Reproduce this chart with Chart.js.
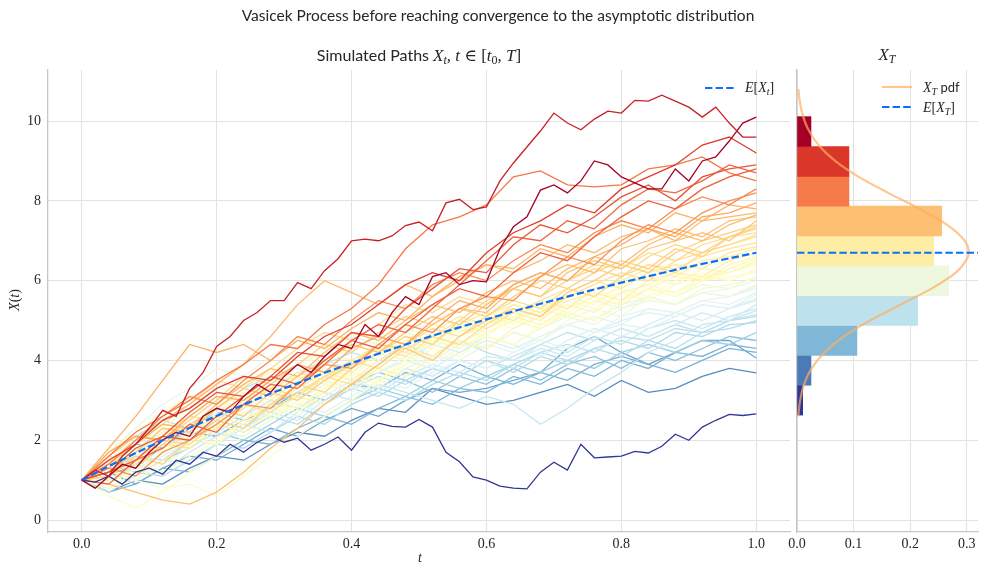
<!DOCTYPE html>
<html>
<head>
<meta charset="utf-8">
<script src="https://cdn.jsdelivr.net/npm/chart.js@4.4.1/dist/chart.umd.min.js"></script>
<style>
  html, body { margin: 0; padding: 0; background: #fff; }
  #wrap { position: relative; width: 988px; height: 577px; }
  #left { position: absolute; left: 0; top: 0; }
  #right { position: absolute; left: 780px; top: 0; }
</style>
</head>
<body>
<div id="wrap">
  <canvas id="left" width="792" height="577"></canvas>
  <canvas id="right" width="208" height="577"></canvas>
</div>
<script>
// time grids
const tFine = [0, 0.02, 0.04, 0.06, 0.08, 0.1, 0.12, 0.14, 0.16, 0.18,
  0.2, 0.22, 0.24, 0.26, 0.28, 0.3, 0.32, 0.34, 0.36, 0.38,
  0.4, 0.42, 0.44, 0.46, 0.48, 0.5, 0.52, 0.54, 0.56, 0.58,
  0.6, 0.62, 0.64, 0.66, 0.68, 0.7, 0.72, 0.74, 0.76, 0.78,
  0.8, 0.82, 0.84, 0.86, 0.88, 0.9, 0.92, 0.94, 0.96, 0.98, 1.0];
const tCoarse = [0, 0.04, 0.08, 0.12, 0.16, 0.2, 0.24, 0.28, 0.32, 0.36, 0.4, 0.44, 0.48,
  0.52, 0.56, 0.6, 0.64, 0.68, 0.72, 0.76, 0.8, 0.84, 0.88, 0.92, 0.96, 1.0];

// the three paths that stand out (read on the 0.02 grid)
const pathTop = [1.0, 1.25, 1.1, 1.6, 1.9, 2.3, 2.75, 2.6, 3.3, 3.7,
  4.35, 4.6, 5.0, 5.2, 5.5, 5.5, 5.95, 5.8, 6.25, 6.55,
  7.0, 7.04, 7.0, 7.12, 7.38, 7.47, 7.25, 7.95, 8.04, 7.78,
  7.85, 8.5, 8.95, 9.35, 9.75, 10.2, 9.95, 9.78, 10.05, 10.25,
  10.2, 10.52, 10.5, 10.65, 10.5, 10.35, 10.1, 10.35, 9.95, 9.6, 9.6];
const pathHigh = [1.0, 0.8, 1.1, 1.4, 1.3, 1.7, 2.0, 2.2, 2.1, 2.6,
  2.8, 2.7, 3.1, 3.4, 3.2, 3.6, 3.9, 3.7, 4.1, 4.4,
  4.3, 4.9, 4.6, 5.2, 5.6, 5.4, 6.1, 6.2, 5.9, 6.0,
  5.97, 6.8, 7.35, 7.6, 8.27, 8.4, 8.2, 8.5, 9.0, 8.9,
  8.6, 8.45, 8.3, 8.3, 8.8, 8.5, 9.0, 9.1, 9.5, 9.95, 10.1];
const pathLow = [1.0, 0.95, 1.1, 0.9, 1.2, 1.3, 1.15, 1.5, 1.4, 1.7,
  1.6, 1.9, 1.7, 1.95, 2.1, 1.95, 2.05, 1.75, 1.9, 2.08,
  1.75, 2.2, 2.43, 2.35, 2.33, 2.52, 2.33, 1.7, 1.46, 1.08,
  1.0, 0.85, 0.8, 0.78, 1.2, 1.45, 1.25, 1.9, 1.56, 1.58,
  1.6, 1.72, 1.68, 1.85, 2.15, 2.0, 2.33, 2.5, 2.65, 2.62, 2.66];

// the rest of the bundle (read on the 0.04 grid)
const pathsCoarse = [
  [1.0, 1.5, 1.9, 2.5, 2.8, 3.3, 3.6, 3.5, 4.1, 4.6, 4.9, 5.4, 5.9, 6.2, 6.0, 6.7, 7.2, 7.5, 7.9, 7.7, 8.3, 8.6, 8.9, 9.4, 9.6, 9.2],
  [1.0, 1.2, 1.8, 2.1, 2.7, 3.2, 3.1, 3.6, 4.2, 4.1, 4.7, 4.6, 5.3, 5.8, 6.3, 6.2, 6.9, 7.4, 7.2, 7.6, 8.1, 8.4, 8.0, 8.6, 8.8, 8.9],
  [1.0, 0.9, 1.5, 1.8, 2.4, 2.2, 2.9, 3.4, 3.3, 3.9, 4.5, 4.9, 4.7, 5.3, 5.9, 6.5, 7.1, 7.0, 7.5, 7.3, 7.9, 8.3, 8.2, 8.5, 8.9, 8.7],
  [1.0, 1.2, 1.5, 2.1, 2.0, 2.6, 3.1, 3.6, 3.4, 4.0, 4.5, 4.3, 4.9, 5.4, 5.8, 5.6, 6.2, 6.7, 6.5, 7.1, 7.6, 8.0, 7.8, 8.3, 8.6, 8.8],
  [1.0, 1.6, 2.2, 2.6, 3.0, 3.5, 3.9, 4.4, 4.3, 4.9, 5.3, 5.9, 6.8, 7.4, 7.6, 7.9, 8.6, 8.75, 8.4, 8.35, 8.4, 8.8, 8.9, 9.1, 8.7, 8.5],
  [1.0, 1.4, 2.0, 2.6, 3.1, 2.9, 3.5, 4.0, 4.6, 4.4, 5.0, 5.5, 5.3, 5.9, 6.2, 6.0, 6.5, 6.9, 6.7, 7.2, 7.5, 7.3, 7.8, 8.1, 7.9, 8.3],
  [1.0, 1.3, 1.1, 1.7, 2.0, 2.4, 2.9, 2.8, 3.4, 3.9, 3.8, 4.4, 4.9, 4.7, 5.3, 5.6, 5.5, 6.1, 6.6, 6.4, 7.0, 7.4, 7.2, 7.7, 8.0, 8.2],
  [1.0, 1.7, 2.1, 2.0, 2.6, 3.1, 3.0, 3.5, 3.9, 3.7, 4.3, 4.6, 4.4, 5.0, 5.5, 5.3, 5.9, 6.2, 6.0, 6.6, 6.9, 7.3, 7.1, 7.6, 7.7, 7.95],
  [1.0, 1.8, 2.6, 3.5, 4.4, 4.2, 4.4, 4.0, 4.5, 4.3, 4.8, 5.2, 5.0, 5.6, 6.1, 6.4, 6.3, 6.8, 6.6, 7.1, 7.4, 7.2, 7.7, 7.5, 7.9, 7.8],
  [1.0, 1.4, 2.0, 2.5, 2.9, 3.4, 3.9, 4.6, 5.4, 6.0, 5.7, 5.4, 5.9, 5.6, 6.0, 6.4, 6.2, 6.5, 6.9, 6.7, 7.1, 7.3, 7.0, 7.5, 7.6, 7.7],
  [1.0, 1.3, 1.9, 2.4, 2.3, 2.9, 3.4, 3.8, 3.6, 4.2, 4.7, 4.5, 5.0, 5.4, 5.2, 5.7, 6.0, 5.8, 6.3, 6.6, 6.4, 6.9, 7.2, 7.0, 7.4, 7.65],
  [1.0, 0.9, 0.7, 0.5, 0.4, 0.7, 1.2, 1.8, 2.3, 2.9, 3.4, 3.9, 4.4, 4.9, 5.3, 5.2, 5.8, 6.1, 6.4, 6.2, 6.8, 7.0, 7.3, 7.1, 7.5, 7.6],
  [1.0, 1.2, 1.7, 2.3, 2.2, 2.8, 3.3, 3.1, 3.6, 4.0, 4.4, 4.2, 4.7, 5.1, 4.9, 5.4, 5.8, 5.6, 6.2, 6.5, 6.3, 6.8, 7.0, 7.2, 7.0, 7.5],
  [1.0, 1.5, 1.3, 1.9, 2.4, 2.8, 2.6, 3.2, 3.0, 3.5, 3.9, 4.4, 4.3, 4.0, 4.6, 5.0, 5.3, 5.1, 5.7, 6.0, 6.4, 6.2, 6.7, 7.0, 7.2, 7.4],
  [1.0, 1.6, 2.1, 2.0, 2.5, 3.0, 3.6, 3.4, 3.9, 4.4, 4.2, 4.7, 5.1, 4.9, 5.3, 5.1, 5.6, 6.0, 5.8, 6.2, 6.5, 6.3, 6.8, 6.6, 7.1, 7.35],
  [1.0, 1.1, 1.6, 1.4, 2.0, 2.5, 2.3, 2.9, 3.4, 3.2, 3.8, 4.2, 4.6, 4.4, 5.0, 5.5, 5.8, 5.6, 6.0, 6.3, 6.1, 6.6, 6.9, 6.7, 7.1, 7.3],
  [1.0, 1.4, 1.9, 2.4, 2.9, 3.5, 3.3, 3.8, 4.3, 4.7, 4.5, 4.9, 5.4, 5.2, 5.6, 5.4, 5.9, 6.2, 6.0, 6.4, 6.3, 6.7, 6.5, 6.9, 7.1, 7.2],
  [1.0, 1.1, 1.5, 2.0, 1.9, 2.4, 2.9, 2.7, 3.2, 3.6, 3.4, 3.9, 4.4, 4.8, 4.6, 5.1, 5.5, 5.3, 5.8, 5.6, 6.1, 6.4, 6.2, 6.7, 6.9, 7.15],
  [1.0, 1.6, 1.5, 2.1, 2.6, 2.5, 3.0, 3.3, 3.1, 3.6, 4.0, 3.8, 4.3, 4.6, 4.4, 4.9, 5.3, 5.1, 5.6, 5.9, 6.2, 6.0, 6.5, 6.7, 6.9, 7.1],
  [1.0, 1.0, 1.4, 1.9, 1.8, 2.3, 2.8, 3.3, 3.1, 3.6, 3.9, 4.3, 4.1, 4.6, 5.0, 4.8, 5.2, 5.5, 5.8, 5.6, 6.1, 6.4, 6.3, 6.6, 6.8, 6.95],
  [1.0, 1.5, 1.4, 2.0, 2.4, 2.3, 2.8, 3.3, 3.7, 3.5, 4.0, 4.4, 4.2, 4.7, 5.1, 4.9, 5.4, 5.2, 5.7, 6.0, 5.8, 6.2, 6.4, 6.3, 6.7, 6.85],
  [1.0, 1.5, 2.0, 2.4, 2.3, 2.8, 3.2, 3.0, 3.5, 3.9, 3.7, 4.2, 4.6, 4.4, 4.9, 5.2, 5.0, 5.5, 5.3, 5.8, 6.0, 6.3, 6.1, 6.5, 6.6, 6.8],
  [1.0, 1.3, 1.8, 1.7, 2.2, 2.6, 2.4, 2.9, 3.3, 3.7, 3.5, 4.0, 4.3, 4.1, 4.6, 4.9, 5.2, 5.0, 5.5, 5.7, 5.5, 6.0, 6.2, 6.1, 6.5, 6.7],
  [1.0, 1.2, 1.1, 1.5, 1.9, 2.4, 2.2, 2.7, 3.1, 2.9, 3.4, 3.8, 3.6, 4.1, 4.5, 4.3, 4.8, 5.1, 5.4, 5.2, 5.7, 5.9, 6.2, 6.0, 6.4, 6.6],
  [1.0, 1.2, 1.7, 2.2, 2.6, 3.0, 2.8, 3.3, 3.6, 3.4, 3.9, 4.3, 4.1, 4.6, 4.4, 4.8, 5.1, 4.9, 5.3, 5.6, 5.4, 5.8, 6.1, 6.0, 6.3, 6.55],
  [1.0, 1.7, 2.2, 2.7, 3.1, 2.9, 3.4, 3.7, 4.1, 3.9, 4.4, 4.2, 4.5, 4.9, 4.7, 5.1, 5.4, 5.2, 5.6, 5.4, 5.9, 6.1, 5.9, 6.3, 6.2, 6.5],
  [1.0, 0.9, 1.3, 1.2, 1.6, 2.0, 2.5, 2.9, 2.8, 3.3, 3.7, 3.5, 4.0, 4.5, 4.3, 4.7, 5.0, 4.8, 5.2, 5.0, 5.5, 5.8, 5.7, 6.1, 6.2, 6.45],
  [1.0, 0.8, 1.2, 1.7, 2.1, 1.9, 2.5, 2.9, 2.7, 3.2, 3.6, 3.4, 3.9, 4.3, 4.1, 4.6, 4.4, 4.9, 5.2, 5.0, 5.5, 5.8, 5.6, 6.0, 6.2, 6.4],
  [1.0, 0.6, 0.3, 0.7, 1.2, 1.6, 2.1, 2.5, 2.9, 3.3, 3.8, 4.2, 4.0, 4.5, 4.8, 4.6, 5.1, 5.4, 5.2, 5.6, 5.8, 5.6, 6.0, 6.2, 6.0, 6.3],
  [1.0, 1.4, 1.7, 2.2, 2.1, 2.7, 3.1, 2.9, 3.4, 3.8, 3.6, 4.1, 4.5, 4.3, 4.8, 5.1, 4.9, 5.3, 5.1, 5.5, 5.7, 5.5, 5.9, 6.1, 6.0, 6.25],
  [1.0, 1.3, 1.0, 0.8, 0.9, 0.6, 1.1, 1.6, 2.1, 2.6, 3.0, 3.5, 3.9, 4.3, 4.7, 5.0, 4.8, 5.2, 5.5, 5.3, 5.7, 5.9, 5.7, 6.0, 6.1, 6.2],
  [1.0, 1.5, 1.9, 2.3, 2.8, 3.2, 3.0, 3.4, 3.9, 4.2, 4.0, 4.4, 4.7, 4.5, 4.9, 4.7, 5.0, 5.3, 5.1, 5.5, 5.4, 5.8, 5.6, 5.9, 5.8, 6.1],
  [1.0, 0.8, 1.0, 1.4, 1.8, 2.3, 2.7, 2.6, 3.1, 3.5, 3.3, 3.8, 3.6, 4.1, 4.5, 4.3, 4.7, 4.5, 5.0, 5.3, 5.1, 5.6, 5.4, 5.8, 5.9, 6.05],
  [1.0, 1.1, 1.6, 2.0, 1.9, 2.4, 2.7, 2.5, 3.0, 3.4, 3.2, 3.7, 4.1, 3.9, 4.3, 4.6, 4.4, 4.8, 5.1, 4.9, 5.3, 5.5, 5.4, 5.7, 5.8, 6.0],
  [1.0, 1.4, 1.3, 1.8, 2.2, 2.6, 3.0, 3.4, 3.8, 3.6, 4.0, 4.3, 4.1, 4.5, 4.3, 4.7, 5.0, 4.8, 5.2, 5.0, 5.4, 5.6, 5.4, 5.7, 5.6, 5.9],
  [1.0, 1.7, 2.3, 2.9, 3.3, 3.8, 3.6, 4.1, 4.5, 4.3, 4.6, 4.4, 4.8, 4.6, 4.9, 5.2, 5.0, 5.3, 5.1, 5.5, 5.3, 5.6, 5.4, 5.7, 5.6, 5.85],
  [1.0, 0.9, 1.3, 1.6, 2.0, 1.9, 2.4, 2.8, 2.6, 3.1, 3.5, 3.3, 3.8, 4.1, 4.0, 4.4, 4.2, 4.6, 4.9, 4.7, 5.1, 5.3, 5.2, 5.5, 5.6, 5.8],
  [1.0, 1.6, 2.0, 1.9, 2.4, 2.7, 3.1, 2.9, 3.3, 3.7, 3.5, 3.9, 4.2, 4.0, 4.4, 4.3, 4.7, 4.5, 4.9, 5.1, 4.9, 5.3, 5.2, 5.5, 5.4, 5.7],
  [1.0, 1.1, 1.5, 1.4, 1.8, 2.2, 2.1, 2.5, 2.9, 2.7, 3.1, 3.5, 3.3, 3.7, 4.0, 3.8, 4.2, 4.5, 4.3, 4.7, 4.9, 4.8, 5.1, 5.4, 5.3, 5.65],
  [1.0, 1.2, 1.7, 2.1, 2.0, 2.5, 2.9, 2.7, 3.2, 3.5, 3.3, 3.7, 4.0, 3.8, 4.2, 4.5, 4.3, 4.6, 4.9, 4.7, 5.0, 5.2, 5.1, 5.4, 5.3, 5.55],
  [1.0, 1.3, 1.8, 2.2, 2.6, 3.0, 3.4, 3.2, 3.7, 4.0, 3.8, 4.2, 4.0, 4.4, 4.2, 4.6, 4.4, 4.1, 4.5, 4.8, 4.6, 4.9, 5.2, 5.0, 5.3, 5.5],
  [1.0, 0.7, 1.1, 1.5, 1.4, 1.9, 2.3, 2.7, 2.5, 3.0, 3.4, 3.2, 3.6, 3.9, 3.7, 4.1, 4.0, 4.3, 4.1, 4.5, 4.8, 4.6, 4.9, 5.2, 5.0, 5.4],
  [1.0, 0.9, 1.4, 1.2, 1.7, 2.1, 2.4, 2.2, 2.7, 3.1, 3.5, 3.3, 3.8, 3.6, 4.0, 3.8, 4.1, 4.4, 4.2, 4.6, 4.4, 4.8, 5.0, 4.8, 5.1, 5.3],
  [1.0, 1.3, 1.6, 2.0, 2.4, 2.2, 2.6, 3.0, 2.8, 3.2, 3.0, 3.4, 3.2, 3.0, 2.8, 3.1, 2.9, 2.4, 2.8, 3.3, 3.7, 4.2, 4.5, 4.9, 5.0, 5.25],
  [1.0, 1.6, 2.1, 2.5, 2.3, 2.8, 3.3, 3.6, 3.4, 3.9, 4.2, 4.0, 4.4, 4.1, 4.5, 4.2, 4.0, 4.4, 4.7, 4.5, 4.8, 4.6, 4.9, 4.7, 5.0, 5.15],
  [1.0, 1.4, 1.2, 1.7, 2.1, 2.5, 2.3, 2.8, 3.1, 2.9, 3.3, 3.6, 3.4, 3.8, 3.6, 4.0, 3.8, 4.2, 4.4, 4.2, 4.6, 4.5, 4.8, 4.7, 5.0, 5.1],
  [1.0, 1.2, 1.6, 1.5, 2.0, 2.4, 2.2, 2.6, 2.4, 2.9, 3.3, 3.1, 3.5, 3.8, 3.6, 4.0, 3.7, 4.1, 3.9, 4.3, 4.1, 4.5, 4.3, 4.7, 4.8, 5.0],
  [1.0, 0.8, 1.2, 1.1, 1.5, 1.9, 1.8, 2.2, 2.6, 2.4, 2.9, 3.2, 3.0, 3.4, 3.7, 3.5, 3.9, 4.2, 4.0, 4.3, 4.5, 4.3, 4.7, 4.6, 4.9, 4.95],
  [1.0, 1.3, 1.1, 1.5, 1.8, 2.2, 2.0, 2.4, 2.8, 2.6, 3.0, 3.3, 3.1, 3.5, 3.3, 3.6, 3.9, 3.7, 4.0, 3.8, 4.2, 4.4, 4.2, 4.5, 4.4, 4.7],
  [1.0, 1.5, 1.9, 1.8, 2.3, 2.7, 2.5, 2.9, 3.2, 3.0, 3.4, 3.7, 3.5, 3.2, 3.6, 3.4, 3.8, 3.5, 3.9, 4.1, 3.8, 4.2, 4.0, 4.3, 4.6, 4.5],
  [1.0, 0.7, 0.9, 1.3, 1.2, 1.6, 2.0, 1.9, 2.3, 2.6, 2.4, 2.8, 3.1, 2.9, 3.3, 3.2, 3.6, 3.4, 3.8, 3.6, 4.0, 3.8, 4.2, 4.1, 4.4, 4.3],
  [1.0, 1.1, 1.4, 1.8, 2.2, 2.1, 2.5, 2.8, 3.2, 3.0, 3.4, 3.3, 3.7, 3.5, 3.9, 3.6, 3.4, 3.7, 3.5, 3.9, 4.1, 3.9, 3.7, 4.0, 4.3, 4.2],
  [1.0, 1.2, 0.9, 1.3, 1.6, 1.5, 1.9, 2.3, 2.1, 2.5, 2.8, 2.6, 3.0, 3.3, 3.2, 3.3, 3.5, 3.7, 4.3, 4.6, 4.2, 3.9, 4.2, 4.5, 4.5, 4.06],
  [1.0, 0.7, 1.0, 0.9, 1.3, 1.6, 1.5, 1.9, 2.2, 2.1, 2.5, 2.8, 2.7, 3.3, 3.1, 2.9, 3.0, 3.2, 3.4, 3.1, 3.5, 3.2, 3.3, 3.6, 3.8, 3.69]
];

// E[X_t] on the 0.04 grid
const meanPath = [1.0, 1.35, 1.68, 2.0, 2.31, 2.61, 2.89, 3.17, 3.43, 3.69, 3.93, 4.17, 4.40,
  4.62, 4.83, 5.03, 5.23, 5.42, 5.60, 5.78, 5.95, 6.11, 6.27, 6.42, 6.56, 6.70];
const meanT = 6.70;

// histogram of X_T (density), bins from bottom to top
const binCenters = [3.005, 3.753, 4.501, 5.249, 5.997, 6.745, 7.493, 8.241, 8.989, 9.737];
const binDensity = [0.010, 0.0247, 0.1059, 0.2135, 0.2682, 0.2417, 0.2559, 0.0918, 0.0918, 0.0247];

// X_T pdf, read along the value axis
const pdfLevels = [2.6, 3.0, 3.4, 3.8, 4.2, 4.6, 5.0, 5.4, 5.8, 6.2, 6.6, 6.72, 7.0, 7.4, 7.8,
  8.2, 8.6, 9.0, 9.4, 9.8, 10.2, 10.6, 10.8];
const pdfValues = [0.0022, 0.0055, 0.0125, 0.0257, 0.0483, 0.0826, 0.129, 0.1833, 0.2376, 0.2807,
  0.3022, 0.3035, 0.2967, 0.2655, 0.2166, 0.161, 0.1091, 0.0674, 0.038, 0.0195, 0.0091, 0.0039, 0.0025];

// ticks
const xTicksLeft = [0, 0.2, 0.4, 0.6, 0.8, 1.0];
const xTicksRight = [0, 0.1, 0.2, 0.3];
const yTicks = [0, 2, 4, 6, 8, 10];

// ---- style ----
const SANS = 'Lato, "DejaVu Sans", sans-serif';
const SERIF = '"Liberation Serif", "DejaVu Serif", serif';
const TXT = '#262626';
const GRID = '#e2e2e2';
const SPINE = '#c6c6c6';
const MEAN_BLUE = '#0b6ff7';
const PDF_ORANGE = 'rgba(253,174,97,0.7)';
const DASH = [7.4, 3.2];

const RDYLBU_R = ['#313695', '#4575b4', '#74add1', '#abd9e9', '#e0f3f8', '#ffffbf',
  '#fee090', '#fdae61', '#f46d43', '#d73027', '#a50026'];

function hexRgb(h) {
  return [parseInt(h.slice(1, 3), 16), parseInt(h.slice(3, 5), 16), parseInt(h.slice(5, 7), 16)];
}

function cmap(f) {
  f = Math.min(1, Math.max(0, f));
  const p = f * 10;
  const i = Math.min(9, Math.floor(p));
  const u = p - i;
  const a = hexRgb(RDYLBU_R[i]), b = hexRgb(RDYLBU_R[i + 1]);
  const c = a.map((v, k) => Math.round(v + (b[k] - v) * u));
  return `rgb(${c[0]},${c[1]},${c[2]})`;
}

function drawRich(ctx, parts, x, y, align) {
  let w = 0;
  parts.forEach(p => { ctx.font = p.font; p.w = ctx.measureText(p.text).width; w += p.w; });
  let cx = align === 'center' ? x - w / 2 : x;
  ctx.textAlign = 'left';
  parts.forEach(p => {
    ctx.font = p.font;
    ctx.fillText(p.text, cx, y + (p.dy || 0));
    cx += p.w;
  });
}

const sans = s => `${s}px ${SANS}`;
const serif = s => `${s}px ${SERIF}`;
const ital = s => `italic ${s}px ${SERIF}`;

function legendLine(ctx, x0, x1, y, color, dash, width) {
  ctx.save();
  ctx.strokeStyle = color;
  ctx.lineWidth = width;
  ctx.setLineDash(dash);
  ctx.beginPath();
  ctx.moveTo(x0, y);
  ctx.lineTo(x1, y);
  ctx.stroke();
  ctx.restore();
}

// ---- left panel ----
const allPaths = [
  { t: tFine, v: pathTop }, { t: tFine, v: pathHigh }, { t: tFine, v: pathLow },
  ...pathsCoarse.map(v => ({ t: tCoarse, v }))
];
const finals = allPaths.map(p => p.v[p.v.length - 1]);
const fMin = Math.min(...finals), fMax = Math.max(...finals);

const pathSets = allPaths.map(p => ({
  data: p.t.map((x, i) => ({ x, y: p.v[i] })),
  borderColor: cmap((p.v[p.v.length - 1] - fMin) / (fMax - fMin)),
  borderWidth: 1.3,
  pointRadius: 0,
  tension: 0,
  fill: false
}));

const meanSet = {
  data: tCoarse.map((x, i) => ({ x, y: meanPath[i] })),
  borderColor: MEAN_BLUE,
  borderWidth: 2.2,
  borderDash: DASH,
  pointRadius: 0,
  fill: false
};

const leftText = {
  id: 'leftText',
  afterDraw(chart) {
    const ctx = chart.ctx;
    ctx.save();
    ctx.fillStyle = TXT;
    ctx.textBaseline = 'alphabetic';
    drawRich(ctx, [{ text: 'Vasicek Process before reaching convergence to the asymptotic distribution', font: sans(15.5) }], 498, 21, 'center');
    drawRich(ctx, [
      { text: 'Simulated Paths ', font: sans(16) },
      { text: 'X', font: ital(17) }, { text: 't', font: ital(12), dy: 3 },
      { text: ', ', font: serif(17) }, { text: 't', font: ital(17) },
      { text: ' \u2208 [', font: serif(17) }, { text: 't', font: ital(17) },
      { text: '0', font: serif(12), dy: 3 }, { text: ', ', font: serif(17) },
      { text: 'T', font: ital(17) }, { text: ']', font: serif(17) }
    ], 419, 61, 'center');
    // legend
    legendLine(ctx, 705, 734, 88, MEAN_BLUE, DASH, 2.2);
    drawRich(ctx, [
      { text: 'E', font: ital(14) }, { text: '[', font: serif(14) },
      { text: 'X', font: ital(14) }, { text: 't', font: ital(10), dy: 3 },
      { text: ']', font: serif(14) }
    ], 745, 92, 'left');
    // axis titles
    drawRich(ctx, [{ text: 't', font: ital(14) }], 420, 562, 'center');
    ctx.translate(19, 300);
    ctx.rotate(-Math.PI / 2);
    drawRich(ctx, [
      { text: 'X', font: ital(14) }, { text: '(', font: serif(14) },
      { text: 't', font: ital(14) }, { text: ')', font: serif(14) }
    ], 0, 0, 'center');
    ctx.restore();
  }
};

new Chart(document.getElementById('left'), {
  type: 'line',
  data: { datasets: [meanSet, ...pathSets] },
  options: {
    responsive: false,
    animation: false,
    layout: { padding: { top: 70, right: 2, left: 0, bottom: 0 } },
    plugins: { legend: { display: false }, tooltip: { enabled: false } },
    scales: {
      x: {
        type: 'linear', min: -0.05, max: 1.05,
        afterBuildTicks: s => { s.ticks = xTicksLeft.map(v => ({ value: v })); },
        afterFit: s => { s.height = 45; },
        grid: { color: GRID, lineWidth: 1, drawTicks: false },
        border: { color: SPINE, width: 1.3 },
        ticks: { color: TXT, font: { family: SERIF, size: 14 }, padding: 4, maxRotation: 0, autoSkip: false,
          callback: v => v.toFixed(1) }
      },
      y: {
        type: 'linear', min: -0.3, max: 11.28,
        afterBuildTicks: s => { s.ticks = yTicks.map(v => ({ value: v })); },
        afterFit: s => { s.width = 48; },
        grid: { color: GRID, lineWidth: 1, drawTicks: false },
        border: { color: SPINE, width: 1.3 },
        ticks: { color: TXT, font: { family: SERIF, size: 14 }, padding: 7, autoSkip: false,
          callback: v => String(v) }
      }
    }
  },
  plugins: [leftText]
});

// ---- right panel ----
const rightText = {
  id: 'rightText',
  afterDraw(chart) {
    const ctx = chart.ctx;
    ctx.save();
    ctx.fillStyle = TXT;
    ctx.textBaseline = 'alphabetic';
    drawRich(ctx, [{ text: 'X', font: ital(17) }, { text: 'T', font: ital(12), dy: 3 }], 107, 60, 'center');
    legendLine(ctx, 102, 132, 87, PDF_ORANGE, [], 2.2);
    drawRich(ctx, [
      { text: 'X', font: ital(14) }, { text: 'T', font: ital(10), dy: 3 },
      { text: ' pdf', font: sans(13) }
    ], 143, 92, 'left');
    legendLine(ctx, 102, 132, 107, MEAN_BLUE, DASH, 2.2);
    drawRich(ctx, [
      { text: 'E', font: ital(14) }, { text: '[', font: serif(14) },
      { text: 'X', font: ital(14) }, { text: 'T', font: ital(10), dy: 3 },
      { text: ']', font: serif(14) }
    ], 143, 112, 'left');
    ctx.restore();
  }
};

new Chart(document.getElementById('right'), {
  type: 'bar',
  data: {
    datasets: [
      {
        type: 'line', indexAxis: 'y',
        data: [{ x: 0, y: meanT }, { x: 0.32, y: meanT }],
        borderColor: MEAN_BLUE, borderWidth: 2.2, borderDash: DASH, pointRadius: 0, fill: false
      },
      {
        type: 'line', indexAxis: 'y',
        data: pdfLevels.map((y, i) => ({ x: pdfValues[i], y })),
        borderColor: PDF_ORANGE, borderWidth: 2.2, pointRadius: 0, fill: false,
        cubicInterpolationMode: 'monotone'
      },
      {
        type: 'bar',
        data: binCenters.map((y, i) => ({ x: binDensity[i], y })),
        backgroundColor: binCenters.map((_, i) => cmap(i / 9)),
        borderWidth: 0,
        barPercentage: 1,
        categoryPercentage: 1
      }
    ]
  },
  options: {
    indexAxis: 'y',
    responsive: false,
    animation: false,
    layout: { padding: { top: 70, right: 10, left: 17, bottom: 0 } },
    plugins: { legend: { display: false }, tooltip: { enabled: false } },
    scales: {
      x: {
        type: 'linear', min: 0, max: 0.32,
        afterBuildTicks: s => { s.ticks = xTicksRight.map(v => ({ value: v })); },
        afterFit: s => { s.height = 45; },
        grid: { color: GRID, lineWidth: 1, drawTicks: false },
        border: { color: SPINE, width: 1.3 },
        ticks: { color: TXT, font: { family: SERIF, size: 14 }, padding: 4, maxRotation: 0, autoSkip: false,
          callback: v => v.toFixed(1) }
      },
      y: {
        type: 'linear', min: -0.3, max: 11.28, offset: false,
        afterBuildTicks: s => { s.ticks = yTicks.map(v => ({ value: v })); },
        afterFit: s => { s.width = 0; },
        grid: { color: GRID, lineWidth: 1, drawTicks: false, offset: false },
        border: { color: SPINE, width: 1.3 },
        ticks: { display: false }
      }
    }
  },
  plugins: [rightText]
});
</script>
</body>
</html>
